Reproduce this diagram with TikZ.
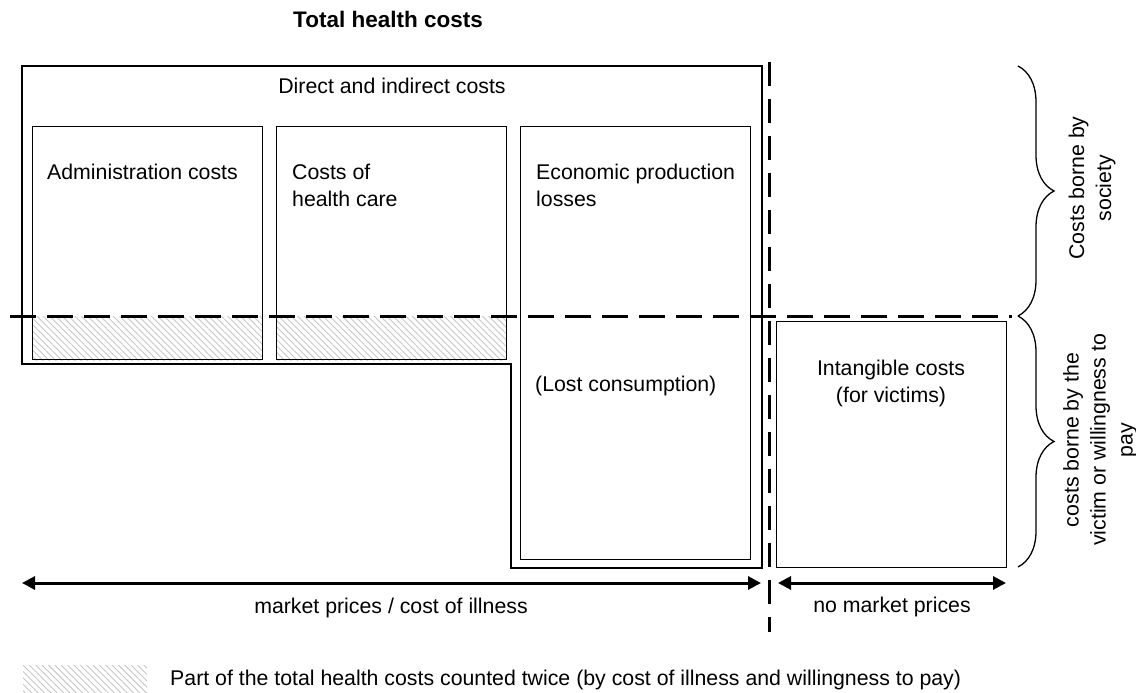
\documentclass[tikz,border=0pt]{standalone}
\usepackage{fontspec}
\setmainfont{Liberation Sans}
\usetikzlibrary{arrows.meta,decorations.pathreplacing,patterns.meta,backgrounds}
\begin{document}
\begin{tikzpicture}[x=1pt,y=1pt,
  font=\fontsize{21.3}{27}\selectfont,
  box/.style={draw, line width=1.2pt, inner sep=0pt, anchor=north west},
  lbl/.style={inner sep=0pt, anchor=base west},
  dline/.style={line width=3pt, dash pattern=on 26pt off 11pt},
  vline/.style={line width=3pt, dash pattern=on 24pt off 13pt},
  arr/.style={line width=3pt, {Triangle[length=13pt,width=13pt]}-{Triangle[length=13pt,width=13pt]}},
  hatch/.style={pattern={Lines[angle=-45,distance=4.5pt,line width=0.9pt]}, pattern color=black!22},
  brc/.style={decorate, decoration={brace, amplitude=36pt}, line width=1.3pt}]
\useasboundingbox (0,0) rectangle (1136,-693);

% title
\node[font=\bfseries\fontsize{22.5}{27}\selectfont, inner sep=0pt, anchor=base] (title) at (388,-28) {Total health costs};

% outer direct/indirect polygon
\draw[line width=1.2pt] (22,-66) -- (762,-66) -- (762,-568) -- (511,-568) -- (511,-364) -- (22,-364) -- cycle;
\node[inner sep=0pt, anchor=base] (dic) at (392,-93) {Direct and indirect costs};

% inner boxes
\node[box, minimum width=230pt, minimum height=233pt] (adm) at (32,-126) {};
\node[box, minimum width=230pt, minimum height=233pt] (hc) at (276,-126) {};
\node[box, minimum width=230pt, minimum height=433pt] (eco) at (520,-126) {};
\node[box, minimum width=230pt, minimum height=246pt] (int) at (776,-321) {};

% hatched parts counted twice
\coordinate (hl0) at (10,-316);
\coordinate (hl1) at (1012,-316);
\begin{scope}[on background layer]
\fill[hatch] (adm.south west) rectangle (adm.east |- hl0);
\fill[hatch] (hc.south west) rectangle (hc.east |- hl0);
\end{scope}

% box labels (base anchor = baseline of last line)
\node[lbl] (admt) at (47,-179) {Administration costs};
\node[lbl, align=left] (hct) at (292,-206) {Costs of\\health care};
\node[lbl, align=left] (ecot) at (536,-206) {Economic production\\losses};
\node[lbl] (lct) at (535,-391) {(Lost consumption)};
\node[inner sep=0pt, align=center, anchor=base] (intt) at (891,-402) {Intangible costs\\(for victims)};

% dashed separators
\draw[dline] (hl0) -- (hl1);
\coordinate (v0) at (769,-62);
\coordinate (v1) at (769,-632);
\draw[vline] (v0) -- (v1);

% arrows
\coordinate (a0) at (22,-583);
\coordinate (a1) at (761,-583);
\coordinate (b0) at (778,-583);
\coordinate (b1) at (1006,-583);
\draw[arr] (a0) -- (a1);
\draw[arr] (b0) -- (b1);
\node[inner sep=0pt, anchor=base] (mp) at (391,-613) {market prices / cost of illness};
\node[inner sep=0pt, anchor=base] (nmp) at (892,-612) {no market prices};

% braces
\coordinate (br0) at (1018,-66);
\coordinate (br1) at (1018,-316);
\coordinate (br2) at (1018,-567);
\draw[brc] (br0) -- (br1);
\draw[brc] (br1) -- (br2);
\node[rotate=90, align=center, inner sep=0pt] (soc) at (1092,-188) {Costs borne by\\society};
\node[rotate=90, align=center, inner sep=0pt] (vic) at (1100,-440) {costs borne by the\\victim or willingness to\\pay};

% legend
\node[hatch, inner sep=0pt, minimum width=124pt, minimum height=27pt, anchor=north west] (leg) at (23,-665) {};
\node[lbl] (legt) at (170,-685) {Part of the total health costs counted twice (by cost of illness and willingness to pay)};
\end{tikzpicture}
\end{document}
